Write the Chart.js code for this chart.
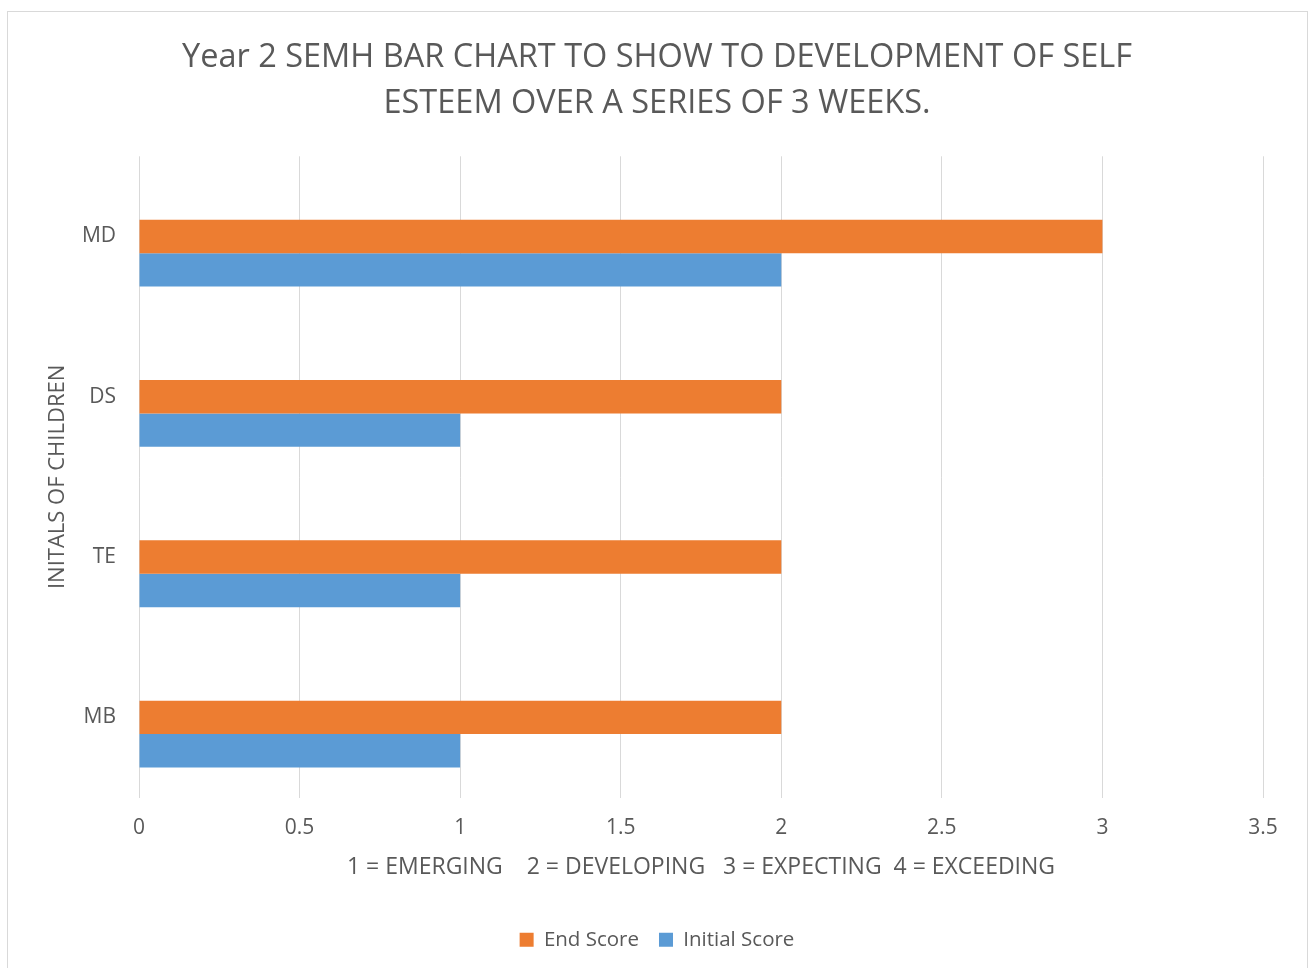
<!DOCTYPE html>
<html>
<head>
<meta charset="utf-8">
<title>Year 2 SEMH bar chart</title>
<script src="https://cdn.jsdelivr.net/npm/chart.js@4.4.0/dist/chart.umd.min.js"></script>
<style>
    html, body { margin: 0; padding: 0; background: #ffffff; overflow: hidden; }
    #wrap { position: relative; width: 1313px; height: 968px; }
</style>
</head>
<body>
<div id="wrap"><canvas id="semhChart"></canvas></div>
<script>
// Chart data
const children = ['MD', 'DS', 'TE', 'MB'];
const endScores = [3, 2, 2, 2];
const initialScores = [2, 1, 1, 1];
// the Excel sheet has a third, empty series sitting above the orange bars
const emptySeries = [null, null, null, null];
const titleLines = ['Year 2 SEMH BAR CHART TO SHOW TO DEVELOPMENT OF SELF', 'ESTEEM OVER A SERIES OF 3 WEEKS.'];
const xAxisTitle = '1 = EMERGING    2 = DEVELOPING   3 = EXPECTING  4 = EXCEEDING';
const yAxisTitle = 'INITALS OF CHILDREN';

const textColor = '#595959';
const gridColor = '#d9d9d9';
const fontFamily = "'Open Sans', 'Liberation Sans', sans-serif";

// white background + outer frame like the Excel chart border
const frame = {
    id: 'frame',
    beforeDraw(chart) {
        const ctx = chart.ctx;
        ctx.save();
        ctx.fillStyle = '#ffffff';
        ctx.fillRect(0, 0, chart.width, chart.height);
        ctx.strokeStyle = '#d9d9d9';
        ctx.lineWidth = 1;
        ctx.strokeRect(7.5, 11.5, 1300, 1000);
        ctx.restore();
    }
};

document.addEventListener('DOMContentLoaded', function() {
    const ctx = document.getElementById('semhChart').getContext('2d');
    new Chart(ctx, {
        type: 'bar',
        data: {
            labels: children,
            datasets: [{
                label: '',
                data: emptySeries,
                backgroundColor: 'rgba(0,0,0,0)',
                categoryPercentage: 0.625,
                barPercentage: 1.0
            }, {
                label: 'End Score',
                data: endScores,
                backgroundColor: '#ed7d31',
                categoryPercentage: 0.625,
                barPercentage: 1.0
            }, {
                label: 'Initial Score',
                data: initialScores,
                backgroundColor: '#5b9bd5',
                categoryPercentage: 0.625,
                barPercentage: 1.0
            }]
        },
        options: {
            indexAxis: 'y',
            responsive: true,
            maintainAspectRatio: false,
            animation: false,
            layout: {
                padding: { left: 8, right: 7, top: 0, bottom: 8 }
            },
            scales: {
                x: {
                    min: 0,
                    max: 3.5,
                    ticks: {
                        stepSize: 0.5,
                        color: textColor,
                        padding: 18,
                        font: { family: fontFamily, size: 21 },
                        callback: function(value) {
                            return String(value);
                        }
                    },
                    grid: {
                        color: gridColor,
                        drawTicks: false
                    },
                    border: { display: false },
                    title: {
                        display: true,
                        text: xAxisTitle,
                        color: textColor,
                        padding: { top: 10, bottom: 28 },
                        font: { family: fontFamily, size: 23 }
                    },
                    afterFit: function(scale) {
                        scale.height = 112;
                    }
                },
                y: {
                    ticks: {
                        color: textColor,
                        padding: 23,
                        font: { family: fontFamily, size: 21 }
                    },
                    grid: { display: false, drawTicks: false },
                    border: { display: false },
                    title: {
                        display: true,
                        text: yAxisTitle,
                        color: textColor,
                        padding: { top: 37, bottom: 0 },
                        font: { family: fontFamily, size: 22 }
                    },
                    afterFit: function(scale) {
                        scale.width = 131;
                    }
                },
                // empty spacer on the right so the plot ends where Excel's does
                yRight: {
                    type: 'category',
                    position: 'right',
                    ticks: { display: false },
                    grid: { display: false, drawTicks: false },
                    border: { display: false },
                    afterFit: function(scale) {
                        scale.width = 43;
                    }
                }
            },
            plugins: {
                title: {
                    display: true,
                    text: titleLines,
                    color: textColor,
                    padding: { top: 35, bottom: 29 },
                    font: { family: fontFamily, size: 32.5, weight: 'normal', lineHeight: 1.42 }
                },
                legend: {
                    position: 'bottom',
                    labels: {
                        color: textColor,
                        boxWidth: 14,
                        boxHeight: 14,
                        padding: 20,
                        font: { family: fontFamily, size: 20.5 },
                        filter: function(item) {
                            return item.text !== '';
                        }
                    }
                },
                tooltip: { enabled: false }
            }
        },
        plugins: [frame]
    });
});
</script>
</body>
</html>
